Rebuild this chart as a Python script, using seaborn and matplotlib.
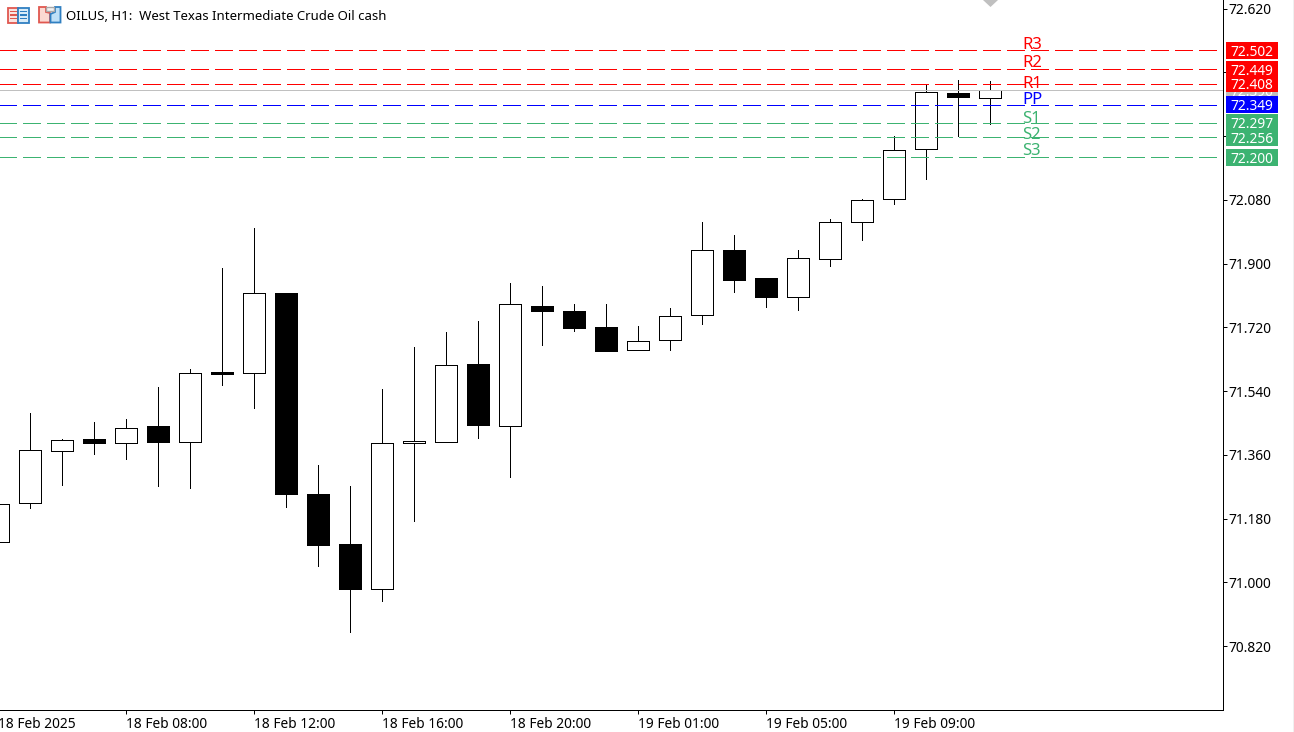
import matplotlib
matplotlib.use('Agg')
import matplotlib.pyplot as plt
from matplotlib.patches import Rectangle, Polygon
from matplotlib.transforms import Affine2D
import pandas as pd
import seaborn as sns

# candles, one per hour
opens = [71.115, 71.223, 71.372, 71.404, 71.393, 71.440, 71.396, 71.593, 71.591, 71.818, 71.250, 71.109,
         70.982, 71.394, 71.396, 71.617, 71.441, 71.781, 71.767, 71.722, 71.656, 71.684, 71.755, 71.939,
         71.859, 71.806, 71.914, 72.018, 72.082, 72.223, 72.382, 72.367]
highs = [71.230, 71.479, 71.406, 71.454, 71.462, 71.552, 71.603, 71.888, 72.001, 71.818, 71.332, 71.273,
         71.547, 71.665, 71.708, 71.739, 71.846, 71.838, 71.787, 71.787, 71.725, 71.775, 72.017, 71.981,
         71.859, 71.938, 72.025, 72.082, 72.261, 72.405, 72.419, 72.415]
lows = [71.100, 71.211, 71.276, 71.363, 71.348, 71.273, 71.265, 71.558, 71.493, 71.214, 71.047, 70.861,
        70.948, 71.174, 71.396, 71.407, 71.296, 71.669, 71.711, 71.654, 71.656, 71.655, 71.728, 71.819,
        71.776, 71.768, 71.894, 71.967, 72.069, 72.140, 72.261, 72.293]
closes = [71.222, 71.375, 71.403, 71.394, 71.437, 71.397, 71.591, 71.589, 71.818, 71.249, 71.106, 70.982,
          71.394, 71.399, 71.615, 71.443, 71.787, 71.767, 71.719, 71.654, 71.681, 71.752, 71.938, 71.855,
          71.807, 71.916, 72.018, 72.079, 72.221, 72.384, 72.369, 72.390]

# pivot levels
level_names = ['R3', 'R2', 'R1', 'PP', 'S1', 'S2', 'S3']
level_values = [72.502, 72.449, 72.408, 72.349, 72.297, 72.256, 72.200]
level_colors = ['#FF0000', '#FF0000', '#FF0000', '#0000FF', '#3CB371', '#3CB371', '#3CB371']
# the names do not sit exactly on their lines in the terminal
label_values = [72.505, 72.454, 72.396, 72.351, 72.298, 72.252, 72.207]
bid_price = 72.390

price_ticks = [70.82, 71.00, 71.18, 71.36, 71.54, 71.72, 71.90, 72.08, 72.26, 72.44, 72.62]
time_ticks = [0, 4, 8, 12, 16, 20, 24, 28]
time_labels = ['18 Feb 2025', '18 Feb 08:00', '18 Feb 12:00', '18 Feb 16:00', '18 Feb 20:00',
               '19 Feb 01:00', '19 Feb 05:00', '19 Feb 09:00']
title = 'OILUS, H1:  West Texas Intermediate Crude Oil cash'

sns.set_theme(style='white')
plt.rcParams['font.family'] = ['Noto Sans', 'DejaVu Sans']

W, H = 1294, 732
PX = 0.72  # one pixel in points
fig = plt.figure(figsize=(W / 100, H / 100), dpi=100)
ax = fig.add_axes([-18.3 / W, 1 - 710.2 / H, 1241.5 / W, 710.5 / H])

candles = pd.DataFrame({'hour': range(len(opens)), 'open': opens, 'high': highs, 'low': lows, 'close': closes})
wicks = candles.melt(id_vars='hour', value_vars=['high', 'low'], value_name='price')

# wicks first, the bodies sit on top of them
sns.lineplot(data=wicks, x='hour', y='price', units='hour', estimator=None, errorbar=None, color='black',
             linewidth=PX, antialiased=False, zorder=2, ax=ax)

up = candles[candles['close'] >= candles['open']]
down = candles[candles['close'] < candles['open']]
ax.bar(up['hour'], up['close'] - up['open'], bottom=up['open'], width=22 / 32, facecolor='white',
       edgecolor='black', linewidth=PX, antialiased=False, zorder=3)
ax.bar(down['hour'], down['open'] - down['close'], bottom=down['close'], width=22 / 32, facecolor='black',
       edgecolor='black', linewidth=PX, antialiased=False, zorder=3)

x_left, x_right = -0.5156, 38.28
levels = pd.DataFrame({'level': level_names * 2, 'price': level_values * 2,
                       'x': [0] * len(level_names) + [x_right] * len(level_names)})
sns.lineplot(data=levels, x='x', y='price', hue='level', style='level', estimator=None, errorbar=None,
             palette=dict(zip(level_names, level_colors)), dashes={n: (18, 6) for n in level_names},
             linewidth=PX, antialiased=False, legend=False, zorder=4, ax=ax)
ax.axhline(bid_price, color='#C0C0C0', linewidth=PX, antialiased=False, zorder=4)

ax.set_xlim(x_left, x_right)
ax.set_ylim(70.639, 72.645)
ax.set_xlabel('')
ax.set_ylabel('')

for side in ['top', 'left']:
    ax.spines[side].set_visible(False)
for side in ['right', 'bottom']:
    ax.spines[side].set_color('black')
    ax.spines[side].set_linewidth(PX)

ax.yaxis.tick_right()
ax.set_yticks(price_ticks)
ax.set_yticklabels([f'{p:.3f}' for p in price_ticks], va='center_baseline')
ax.set_xticks(time_ticks)
ax.set_xticklabels(time_labels, ha='left')
ax.tick_params(axis='y', right=True, length=3.2, width=PX, pad=0.6, labelsize=9.9, colors='black')
ax.tick_params(axis='x', bottom=True, length=3.2, width=PX, pad=1.6, labelsize=9.9, colors='black')

# price tags on the right, the grey bid tag stays underneath the others
tag_tf = ax.get_yaxis_transform()
tag_x, tag_w = 1244.3 / 1241.5, 52 / 1241.5
tag_h = 17 / 354.3
tags = [(bid_price, '#C0C0C0', 5.4)] + [(v, c, 6) for v, c in zip(level_values, level_colors)]
for price, col, z in tags:
    ax.add_patch(Rectangle((tag_x, price - tag_h / 2), tag_w, tag_h, transform=tag_tf, facecolor=col,
                           edgecolor='none', clip_on=False, zorder=z))
    ax.text(tag_x + tag_w / 2, price, f'{price:.3f}', transform=tag_tf, color='white', fontsize=9.9,
            ha='center', va='center_baseline', clip_on=False, zorder=z + 0.1 if z < 6 else 7)

for name, price, col in zip(level_names, label_values, level_colors):
    ax.text(32.0, price, name, color=col, fontsize=12, ha='left', va='baseline', zorder=5)

# header icons and the grey shift marker are plain pixel shapes
px = Affine2D().scale(1, -1).translate(0, H)


def box(x, y, w, h, fc, ec='none', lw=PX):
    fig.add_artist(Rectangle((x, y), w, h, transform=px, facecolor=fc, edgecolor=ec, linewidth=lw))


def poly(points, fc, ec='none', lw=1.0):
    fig.add_artist(Polygon(points, closed=True, transform=px, facecolor=fc, edgecolor=ec, linewidth=lw))


box(7.5, 7.5, 10.5, 15, '#FBE3E0', '#E0574F', 1.3)
box(18, 7.5, 10.5, 15, '#D9ECF8', '#2F7FC1', 1.3)
for ly in [10.5, 14, 17.5]:
    box(10, ly, 7, 1.6, '#E0574F')
    box(19.5, ly, 7, 1.6, '#2F7FC1')
poly([(39, 7), (46, 7), (46, 12), (50, 13), (50, 22.5), (39, 22.5)], '#FBD9D2', '#E0574F', 1.3)
poly([(60.5, 7), (55, 7), (55, 12), (50.5, 14), (50.5, 22.5), (60.5, 22.5)], '#BFE0F7', '#2F7FC1', 1.3)
box(46, 7, 8, 4, '#F2F2F2', '#A8A8A8', 1.0)
poly([(983, 0), (998, 0), (990.5, 7)], '#C0C0C0')
box(1293, 0, 1, H, '#F0F0F0')

fig.text(66 / W, 1 - 15 / H, title, fontsize=9.5, color='black', ha='left', va='center_baseline')

fig.savefig('out.png', dpi=100)
